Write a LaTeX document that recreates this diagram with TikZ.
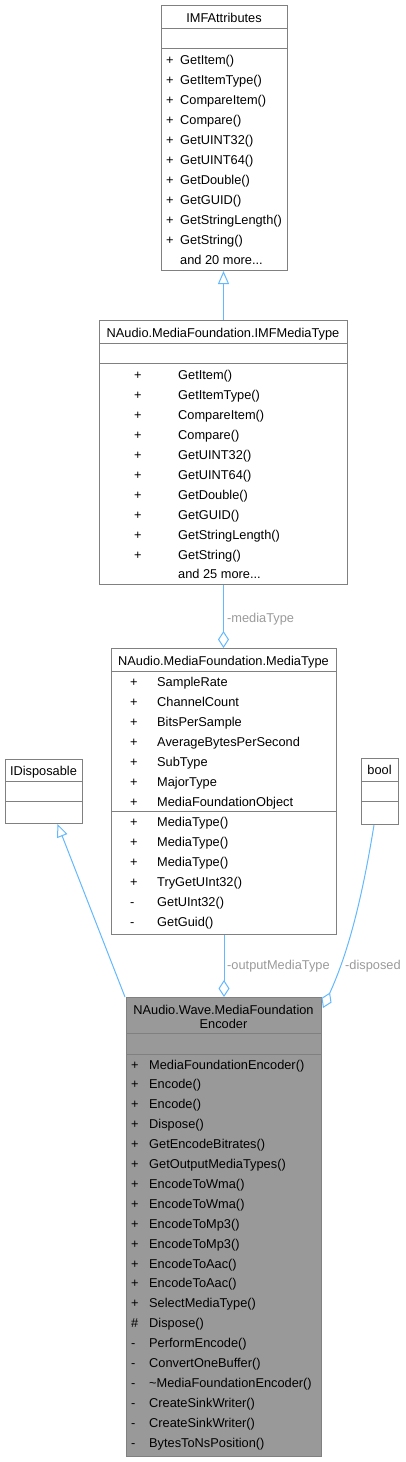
\documentclass[tikz,border=0pt]{standalone}
\usepackage{fontspec}
\setmainfont{Liberation Sans}
\usetikzlibrary{arrows.meta}
\definecolor{edgeblue}{HTML}{63B8FF}
\definecolor{boxgray}{HTML}{808080}
\definecolor{labgray}{HTML}{9A9A9A}
\definecolor{encfill}{HTML}{999999}
\tikzset{
  box/.style={draw=boxgray, line width=1pt, inner sep=0pt, anchor=north west},
  sepline/.style={draw=boxgray, line width=1pt},
  txt/.style={inner sep=0pt, font=\fontsize{12.8}{15}\selectfont, anchor=base west},
  ttl/.style={inner sep=0pt, font=\fontsize{12.8}{15}\selectfont, anchor=base},
  lab/.style={inner sep=0pt, font=\fontsize{12.8}{15}\selectfont, text=labgray, anchor=base west},
  conn/.style={draw=edgeblue, line width=1pt},
  inherit/.style={conn, -{Triangle[open, length=13pt, width=11pt]}},
  aggr/.style={conn, -{Diamond[open, length=17pt, width=11pt]}},
}
\begin{document}
\begin{tikzpicture}[x=1pt, y=-1pt]
\useasboundingbox (0,0) rectangle (406,1462);

% ---------- IMFAttributes ----------
\node[box, minimum width=126pt, minimum height=265pt] (attr) at (161,5) {};
\draw[sepline] (161,28) -- (287,28);
\draw[sepline] (161,48) -- (287,48);
\node[ttl] (attrT) at (224,22) {IMFAttributes};
\foreach \t [count=\i] in {GetItem(),GetItemType(),CompareItem(),Compare(),GetUINT32(),GetUINT64(),GetDouble(),GetGUID(),GetStringLength(),GetString()} {
  \node[txt] (attrP\i) at (166,{44+20*\i}) {+};
  \node[txt] (attrM\i) at (180,{44+20*\i}) {\t};
}
\node[txt] (attrMore) at (180,264) {and 20 more...};

% ---------- IMFMediaType ----------
\node[box, minimum width=248pt, minimum height=264pt] (imf) at (99,320) {};
\draw[sepline] (99,343) -- (347,343);
\draw[sepline] (99,363) -- (347,363);
\node[ttl] (imfT) at (223,337) {NAudio.MediaFoundation.IMFMediaType};
\foreach \t [count=\i] in {GetItem(),GetItemType(),CompareItem(),Compare(),GetUINT32(),GetUINT64(),GetDouble(),GetGUID(),GetStringLength(),GetString()} {
  \node[txt] (imfP\i) at (134,{359+20*\i}) {+};
  \node[txt] (imfM\i) at (178,{359+20*\i}) {\t};
}
\node[txt] (imfMore) at (178,578) {and 25 more...};

% ---------- MediaType ----------
\node[box, minimum width=225pt, minimum height=286pt] (mt) at (111,648) {};
\draw[sepline] (111,671) -- (336,671);
\draw[sepline] (111,811) -- (336,811);
\node[ttl] (mtT) at (223.5,665) {NAudio.MediaFoundation.MediaType};
\foreach \t [count=\i] in {SampleRate,ChannelCount,BitsPerSample,AverageBytesPerSecond,SubType,MajorType,MediaFoundationObject} {
  \node[txt] (mtAP\i) at (130,{666+20*\i}) {+};
  \node[txt] (mtA\i) at (157,{666+20*\i}) {\t};
}
\foreach \p/\t [count=\i] in {+/MediaType(),+/MediaType(),+/MediaType(),+/TryGetUInt32(),-/GetUInt32(),-/GetGuid()} {
  \node[txt] (mtMP\i) at (130,{806+20*\i}) {\p};
  \node[txt] (mtM\i) at (157,{806+20*\i}) {\t};
}

% ---------- IDisposable ----------
\node[box, minimum width=77pt, minimum height=64pt] (idisp) at (5,759) {};
\draw[sepline] (5,781) -- (82,781);
\draw[sepline] (5,801) -- (82,801);
\node[ttl] (idispT) at (43.5,775) {IDisposable};

% ---------- bool ----------
\node[box, minimum width=37pt, minimum height=66pt] (bool) at (361,758) {};
\draw[sepline] (361,781) -- (398,781);
\draw[sepline] (361,801) -- (398,801);
\node[ttl] (boolT) at (379.5,774) {bool};

% ---------- MediaFoundationEncoder ----------
\node[box, fill=encfill, minimum width=195pt, minimum height=459pt] (enc) at (126,997) {};
\draw[sepline] (126,1033) -- (321,1033);
\draw[sepline] (126,1054) -- (321,1054);
\node[ttl] (encT1) at (223.5,1014) {NAudio.Wave.MediaFoundation};
\node[ttl] (encT2) at (223.5,1028) {Encoder};
\foreach \p/\t [count=\i] in {+/MediaFoundationEncoder(),+/Encode(),+/Encode(),+/Dispose(),+/GetEncodeBitrates(),+/GetOutputMediaTypes(),+/EncodeToWma(),+/EncodeToWma(),+/EncodeToMp3(),+/EncodeToMp3(),+/EncodeToAac(),+/EncodeToAac(),+/SelectMediaType(),\#/Dispose(),-/PerformEncode(),-/ConvertOneBuffer(),-/\textasciitilde MediaFoundationEncoder(),-/CreateSinkWriter(),-/CreateSinkWriter(),-/BytesToNsPosition()} {
  \node[txt] (encP\i) at (131,{1049.1+19.9*\i}) {\p};
  \node[txt] (encM\i) at (149,{1049.1+19.9*\i}) {\t};
}

% ---------- connectors ----------
\draw[inherit] (imf.north) -- (imf.north |- attr.south);
\draw[aggr] (imf.south) -- (imf.south |- mt.north);
\node[lab] (labMT) at (227,622) {-mediaType};
\draw[aggr] (mt.south) -- (mt.south |- enc.north);
\node[lab] (labOMT) at (227,969) {-outputMediaType};
\draw[inherit] ([xshift=-1pt]enc.north west) -- ([xshift=13.5pt]idisp.south);
\coordinate (dispEnd) at ([xshift=1pt,yshift=-11pt]enc.north east);
\draw[aggr] ([xshift=-6pt]bool.south) .. controls (361,905) and (347,955) .. (dispEnd);
\node[lab] (labD) at (345,969) {-disposed};
\end{tikzpicture}
\end{document}
